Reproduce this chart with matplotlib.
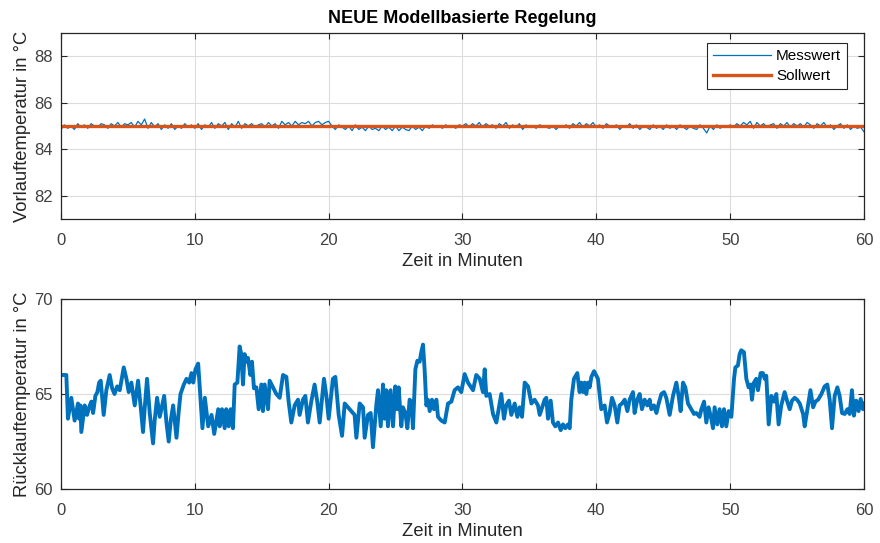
import matplotlib
matplotlib.use("Agg")
import matplotlib.pyplot as plt
import numpy as np

plt.rcParams["font.family"] = ["Liberation Sans", "DejaVu Sans"]

# Vorlauf: Messwert alle 0.25 min, Sollwert konstant
vorlauf_mess = [
    84.85, 85.05, 84.9, 85.0, 84.85, 85.1, 84.95, 85.05, 84.9, 85.1, 85.0, 84.95, 85.1, 85.05, 84.9, 85.1, 85.0, 85.15, 84.95, 85.1,
    85.05, 85.15, 84.95, 85.2, 85.05, 85.3, 84.9, 85.15, 84.95, 85.1, 84.85, 85.05, 84.9, 85.1, 84.85, 85.0, 84.9, 85.1, 84.95, 85.05,
    84.9, 85.1, 84.85, 85.05, 84.95, 85.15, 84.9, 85.1, 85.0, 85.15, 84.85, 85.1, 84.95, 85.2, 84.9, 85.1, 85.0, 85.1, 84.95, 85.05,
    85.1, 84.95, 85.15, 85.0, 85.1, 84.9, 85.2, 85.05, 85.15, 85.0, 85.2, 85.05, 85.15, 85.1, 85.2, 85.0, 85.15, 85.2, 85.05, 85.15,
    85.2, 85.0, 84.85, 85.05, 84.95, 84.85, 85.0, 84.8, 85.05, 84.85, 84.95, 84.8, 85.0, 84.85, 84.9, 84.8, 85.0, 84.85, 84.95, 84.8,
    85.0, 84.8, 84.95, 84.85, 84.8, 85.0, 84.85, 84.95, 84.8, 85.0, 84.9, 85.05, 84.95, 85.0, 84.9, 85.05, 84.95, 85.0, 84.9, 85.05,
    85.0, 85.1, 84.95, 85.1, 85.0, 85.15, 84.95, 85.1, 85.0, 85.05, 84.9, 85.1, 85.0, 85.15, 84.9, 85.05, 84.95, 85.1, 84.85, 85.05,
    84.95, 85.0, 84.9, 85.05, 85.0, 84.95, 84.9, 85.0, 84.85, 85.0, 84.95, 85.05, 84.9, 85.1, 85.0, 85.15, 84.95, 85.1, 85.0, 85.15,
    84.95, 85.05, 84.9, 85.1, 85.0, 84.95, 85.05, 84.85, 85.0, 84.95, 85.1, 84.9, 85.05, 84.85, 85.0, 84.95, 84.85, 85.05, 84.9, 85.0,
    84.85, 85.05, 84.9, 85.0, 84.85, 85.05, 84.95, 84.85, 85.0, 84.9, 84.85, 85.05, 84.9, 84.7, 85.0, 84.85, 85.05, 84.9, 85.0, 84.95,
    85.05, 84.95, 85.1, 85.0, 85.15, 85.05, 85.2, 84.9, 85.15, 85.0, 85.1, 84.95, 85.05, 85.1, 84.9, 85.1, 85.0, 85.15, 84.95, 85.1,
    85.0, 85.1, 84.95, 85.15, 85.05, 84.9, 85.1, 85.0, 85.15, 84.95, 85.05, 84.85, 85.0, 85.1, 84.9, 85.05, 84.85, 85.0, 84.9, 84.95,
    84.75,
]
sollwert = 85.0

# Ruecklauf: Zeitpunkte (min) und Temperaturen
rueck_t = [
    0.0, 0.4, 0.52, 0.77, 1.02, 1.27, 1.35, 1.45, 1.52, 1.77, 1.95, 2.1, 2.27, 2.4, 2.57, 2.72, 2.85, 2.97,
    3.19, 3.39, 3.64, 3.82, 4.0, 4.2, 4.39, 4.69, 4.89, 5.06, 5.26, 5.51, 5.76, 5.96, 6.13, 6.26, 6.43, 6.63,
    6.88, 7.0, 7.18, 7.38, 7.71, 7.88, 8.05, 8.2, 8.38, 8.63, 8.8, 8.93, 9.18, 9.38, 9.58, 9.75, 9.88, 10.05,
    10.25, 10.42, 10.57, 10.75, 11.0, 11.25, 11.45, 11.75, 11.86, 12.03, 12.23, 12.35, 12.53, 12.68, 12.85,
    12.98, 13.18, 13.35, 13.47, 13.6, 13.72, 13.85, 13.97, 14.15, 14.27, 14.42, 14.6, 14.77, 14.97, 15.09,
    15.22, 15.47, 15.59, 15.84, 16.09, 16.34, 16.59, 16.84, 17.01, 17.21, 17.46, 17.71, 17.83, 18.08, 18.26,
    18.45, 18.7, 18.95, 19.15, 19.33, 19.65, 19.83, 20.0, 20.32, 20.5, 20.75, 21.0, 21.2, 21.44, 21.69, 21.94,
    22.07, 22.32, 22.57, 22.69, 22.94, 23.14, 23.31, 23.56, 23.69, 23.89, 24.06, 24.18, 24.31, 24.43, 24.63,
    24.81, 24.98, 25.13, 25.23, 25.43, 25.55, 25.73, 25.88, 26.05, 26.18, 26.3, 26.48, 26.63, 26.8, 26.92,
    27.05, 27.17, 27.3, 27.42, 27.55, 27.72, 27.87, 28.05, 28.17, 28.42, 28.67, 28.92, 29.17, 29.41, 29.66,
    29.91, 30.16, 30.41, 30.79, 31.03, 31.29, 31.53, 31.66, 31.78, 32.03, 32.28, 32.53, 32.7, 32.9, 33.1,
    33.27, 33.47, 33.65, 33.9, 34.1, 34.27, 34.45, 34.65, 34.9, 35.15, 35.39, 35.64, 35.77, 36.14, 36.26,
    36.39, 36.59, 36.76, 36.94, 37.14, 37.34, 37.51, 37.68, 37.88, 38.01, 38.13, 38.33, 38.58, 38.75, 38.88,
    39.0, 39.13, 39.25, 39.38, 39.5, 39.63, 39.83, 40.0, 40.12, 40.37, 40.62, 40.8, 40.99, 41.17, 41.37,
    41.57, 41.74, 41.92, 42.12, 42.32, 42.49, 42.74, 42.86, 43.06, 43.24, 43.41, 43.61, 43.81, 43.99, 44.11,
    44.31, 44.49, 44.66, 44.86, 45.06, 45.23, 45.48, 45.73, 45.98, 46.15, 46.3, 46.48, 46.65, 46.85, 47.1,
    47.3, 47.47, 47.72, 47.85, 48.05, 48.22, 48.39, 48.59, 48.72, 48.84, 49.04, 49.21, 49.39, 49.54, 49.71,
    49.89, 50.09, 50.29, 50.39, 50.58, 50.71, 50.83, 51.03, 51.21, 51.38, 51.53, 51.63, 51.78, 51.95, 52.08,
    52.28, 52.45, 52.58, 52.7, 52.88, 53.08, 53.28, 53.45, 53.62, 53.82, 54.07, 54.27, 54.45, 54.62, 54.82,
    55.0, 55.2, 55.45, 55.57, 55.82, 56.0, 56.2, 56.37, 56.57, 56.82, 57.06, 57.26, 57.44, 57.61, 57.81,
    58.01, 58.18, 58.36, 58.56, 58.76, 58.93, 59.1, 59.25, 59.42, 59.6, 59.75, 59.92, 60.0,
]
rueck_T = [
    66.0, 66.0, 63.7, 64.8, 63.6, 64.5, 63.7, 64.4, 63.0, 64.4, 63.9, 64.3, 64.6, 64.0, 64.9, 65.1, 65.6, 65.7,
    63.9, 65.2, 66.0, 65.3, 65.0, 65.4, 65.2, 66.4, 65.8, 65.1, 65.6, 64.4, 65.7, 64.3, 63.0, 64.3, 65.8, 64.0,
    62.4, 63.6, 64.8, 63.8, 64.9, 63.5, 62.5, 63.6, 64.4, 62.7, 64.1, 65.0, 65.5, 65.8, 65.6, 66.1, 65.6, 66.3,
    66.6, 64.8, 63.2, 64.8, 63.3, 63.9, 62.9, 64.2, 63.3, 64.2, 63.2, 64.2, 63.3, 64.2, 63.2,
    65.5, 65.6, 67.5, 67.1, 65.5, 67.1, 66.7, 66.9, 66.0, 66.7, 65.3, 65.35, 64.2, 65.5, 64.1,
    65.5, 64.2, 65.7, 65.35, 65.0, 64.8, 66.0, 65.9, 64.6, 63.5, 64.4, 64.7, 63.9, 64.7, 64.9,
    63.5, 64.6, 65.5, 64.6, 63.5, 65.8, 64.9, 63.7, 65.8, 65.9, 63.9, 62.8, 64.5, 64.3, 64.1, 63.9,
    62.7, 64.5, 64.3, 62.7, 63.9, 64.0, 62.2, 64.4, 65.2, 63.3, 65.5, 63.7, 65.2, 63.3, 65.2,
    63.3, 65.4, 64.2, 65.35, 63.3, 64.3, 64.0, 63.2, 64.7, 64.6, 63.2, 66.3, 66.75, 66.7, 67.2,
    67.6, 66.3, 64.4, 64.7, 64.1, 64.7, 64.2, 64.7, 63.8, 63.6, 63.5, 64.5, 64.6, 65.2, 65.35,
    65.1, 66.05, 65.6, 65.2, 66.0, 65.8, 65.1, 66.3, 64.9, 65.0, 63.95, 63.5, 64.2, 65.0, 63.7,
    64.4, 64.65, 63.9, 64.5, 63.8, 64.3, 63.8, 65.6, 65.4, 64.5, 64.7, 64.4, 63.9, 64.7, 64.8,
    63.7, 64.65, 63.5, 63.3, 63.5, 63.1, 63.4, 63.2, 63.4, 63.2, 64.7, 65.8, 66.1, 65.1, 65.6,
    65.1, 65.6, 65.0, 65.6, 65.35, 65.9, 66.2, 65.96, 65.8, 64.2, 64.4, 63.5, 64.0, 64.8, 64.4,
    63.5, 64.4, 64.5, 64.7, 64.1, 64.7, 65.1, 64.0, 64.7, 65.0, 64.2, 64.7, 64.4, 64.7, 64.2,
    64.4, 64.0, 64.5, 65.0, 65.1, 64.8, 63.9, 64.9, 65.6, 64.9, 64.1, 65.6, 65.35, 64.5, 64.2,
    63.95, 64.0, 63.8, 64.2, 64.6, 63.5, 64.3, 63.7, 63.2, 64.3, 63.4, 64.2, 63.3, 64.2, 63.3,
    64.1, 63.8, 65.8, 66.4, 66.5, 67.1, 67.3, 67.2, 65.8, 65.35, 65.5, 64.7, 65.6, 65.8, 65.2,
    66.1, 66.1, 65.8, 65.96, 63.4, 64.9, 64.6, 65.0, 63.4, 64.4, 65.1, 64.6, 64.2, 64.65, 64.8,
    64.7, 64.5, 63.95, 63.3, 64.4, 65.2, 64.3, 64.6, 64.7, 65.0, 65.4, 65.5, 64.7, 63.2, 64.9,
    65.35, 64.9, 64.0, 63.95, 64.2, 63.95, 65.2, 63.86, 64.65, 64.1, 64.74, 64.2, 64.5,
]

x_ticks = [0, 10, 20, 30, 40, 50, 60]
blau = "#0072BD"
orange = "#D95319"
dunkel = "#262626"

t_vor = np.linspace(0, 60, len(vorlauf_mess))

fig = plt.figure(figsize=(8.8, 5.43), dpi=100)
ax1 = fig.add_axes([0.0693, 0.5967, 0.9125, 0.3425])
ax2 = fig.add_axes([0.0693, 0.0994, 0.9125, 0.35])

ax1.plot(t_vor, vorlauf_mess, color=blau, lw=0.9, label="Messwert")
ax1.plot([0, 60], [sollwert, sollwert], color=orange, lw=2.4, label="Sollwert")
ax1.set_ylim(81, 89)
ax1.set_yticks([82, 84, 86, 88])
ax1.set_title("NEUE Modellbasierte Regelung", fontsize=13, fontweight="bold", pad=7)
ax1.set_ylabel("Vorlauftemperatur in °C", fontsize=13.2, color=dunkel, labelpad=2)
leg = ax1.legend(loc="upper right", bbox_to_anchor=(0.979, 0.946), borderaxespad=0,
                 fontsize=11, fancybox=False, framealpha=1, edgecolor=dunkel,
                 handlelength=3.8, borderpad=0.4, labelspacing=0.4, handletextpad=0.3)
leg.get_frame().set_linewidth(0.8)

ax2.plot(rueck_t, rueck_T, color=blau, lw=2.8)
ax2.set_ylim(60, 70)
ax2.set_yticks([60, 65, 70])
ax2.set_ylabel("Rücklauftemperatur in °C", fontsize=13.2, color=dunkel, labelpad=2)

for ax in (ax1, ax2):
    ax.set_xlim(0, 60)
    ax.set_xticks(x_ticks)
    ax.set_xlabel("Zeit in Minuten", fontsize=13.2, color=dunkel, labelpad=4)
    ax.grid(True, color="#dcdcdc", lw=0.8)
    ax.set_axisbelow(True)
    ax.tick_params(direction="in", top=True, right=True, length=4,
                   labelsize=12, colors=dunkel, labelcolor="#404040")
    ax.tick_params(axis="x", pad=10)
    ax.tick_params(axis="y", pad=6)
    for s in ax.spines.values():
        s.set_color(dunkel)
        s.set_linewidth(0.9)

fig.savefig("out.png", dpi=100)
